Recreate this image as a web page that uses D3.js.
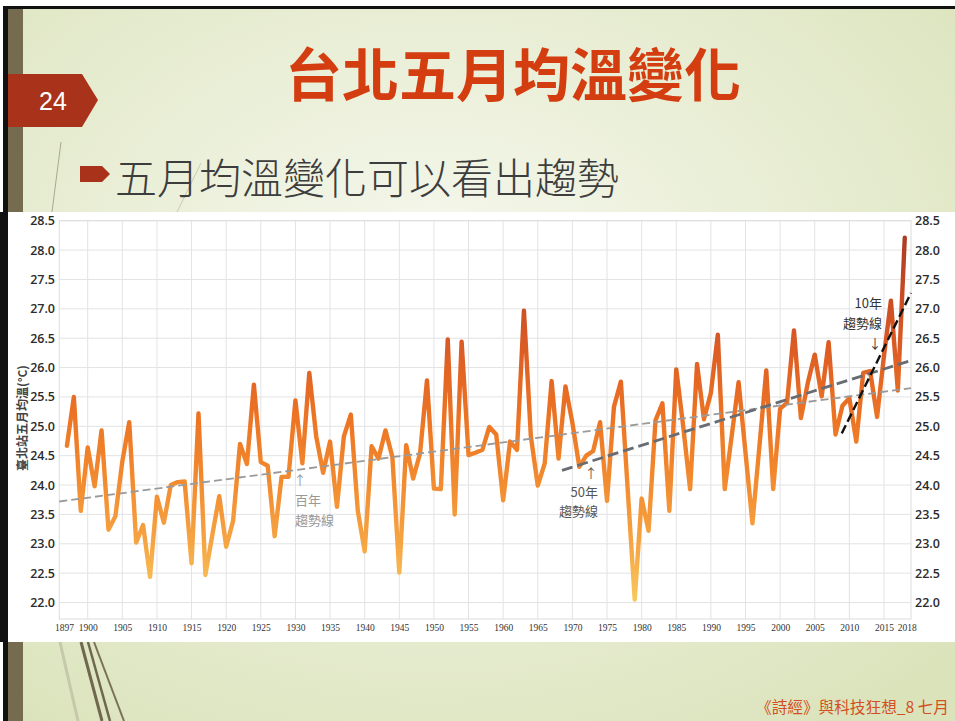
<!DOCTYPE html>
<html>
<head>
<meta charset="utf-8">
<script src="https://cdn.jsdelivr.net/npm/d3@7"></script>
<style>
  body { margin: 0; background: #fff; }
  svg { display: block; }
</style>
</head>
<body>
<div id="chart"></div>
<script>
// Taipei station, May mean temperature (°C), 1897 - 2018
var firstYear = 1897;
var mayTemps = [
  24.67, 25.50, 23.56, 24.64, 23.98, 24.93, 23.24, 23.47, 24.40, 25.07, // 1897-1906
  23.02, 23.32, 22.44, 23.80, 23.36, 24.00, 24.05, 24.06, 22.67, 25.22, // 1907-1916
  22.47, 23.15, 23.81, 22.95, 23.39, 24.70, 24.36, 25.71, 24.39, 24.33, // 1917-1926
  23.13, 24.14, 24.14, 25.44, 24.37, 25.91, 24.83, 24.21, 24.74, 23.63, // 1927-1936
  24.83, 25.20, 23.57, 22.87, 24.66, 24.45, 24.93, 24.48, 22.51, 24.68, // 1937-1946
  24.11, 24.54, 25.78, 23.94, 23.93, 26.48, 23.50, 26.44, 24.51, 24.55, // 1947-1956
  24.60, 24.99, 24.86, 23.74, 24.74, 24.60, 26.97, 24.83, 23.99, 24.37, // 1957-1966
  25.77, 24.45, 25.68, 25.06, 24.31, 24.50, 24.58, 25.07, 23.73, 25.33, // 1967-1976
  25.76, 23.90, 22.05, 23.77, 23.22, 25.10, 25.39, 23.56, 25.97, 25.00, // 1977-1986
  23.93, 26.06, 25.12, 25.57, 26.56, 23.93, 24.83, 25.75, 24.55, 23.35, // 1987-1996
  24.65, 25.95, 23.93, 25.30, 25.40, 26.63, 25.14, 25.74, 26.22, 25.51, // 1997-2006
  26.43, 24.86, 25.35, 25.48, 24.74, 25.91, 25.94, 25.16, 26.20, 27.14, // 2007-2016
  25.61, 28.21                                                          // 2017-2018
];

// trend lines, as [year, °C] end points
var trend100 = [[1895.9, 23.72], [2018.9, 25.65]];
var trend50 = [[1968.5, 24.25], [2018.9, 26.12]];
var trend10 = [[2008.9, 24.88], [2018.9, 27.27]];

var yTicks = [22.0, 22.5, 23.0, 23.5, 24.0, 24.5, 25.0, 25.5, 26.0, 26.5, 27.0, 27.5, 28.0, 28.5];
var xTicks = [1897, 1900, 1905, 1910, 1915, 1920, 1925, 1930, 1935, 1940, 1945, 1950, 1955,
              1960, 1965, 1970, 1975, 1980, 1985, 1990, 1995, 2000, 2005, 2010, 2015, 2018];
var xGrid = [1900, 1905, 1910, 1915, 1920, 1925, 1930, 1935, 1940, 1945, 1950, 1955,
             1960, 1965, 1970, 1975, 1980, 1985, 1990, 1995, 2000, 2005, 2010, 2015];

var data = mayTemps.map(function(v, i) { return { year: firstYear + i, temp: v }; });

var W = 955, H = 721;
var svg = d3.select("#chart").append("svg")
    .attr("width", W)
    .attr("height", H);
var defs = svg.append("defs");

// slide background
var bg = defs.append("radialGradient").attr("id", "slideBg")
    .attr("cx", "45%").attr("cy", "40%").attr("r", "75%");
bg.append("stop").attr("offset", "0%").attr("stop-color", "#f7f9f0");
bg.append("stop").attr("offset", "100%").attr("stop-color", "#dbe3bb");

svg.append("rect").attr("width", W).attr("height", H).attr("fill", "#fff");
svg.append("rect").attr("x", 8).attr("y", 9).attr("width", W - 8).attr("height", H - 9)
    .attr("fill", "url(#slideBg)");
svg.append("rect").attr("x", 3).attr("y", 6).attr("width", W - 3).attr("height", 3).attr("fill", "#111");
svg.append("rect").attr("x", 3).attr("y", 6).attr("width", 5).attr("height", H - 6).attr("fill", "#111");
svg.append("rect").attr("x", 8).attr("y", 9).attr("width", 15).attr("height", H - 9).attr("fill", "#756b4f");

// thin decorative strokes
var deco = svg.append("g").attr("fill", "none");
deco.append("line").attr("x1", 61).attr("y1", 142).attr("x2", 52).attr("y2", 212)
    .attr("stroke", "#a9a98c").attr("stroke-width", 1);
deco.append("line").attr("x1", 201).attr("y1", 163).attr("x2", 177).attr("y2", 212)
    .attr("stroke", "#c9cbb0").attr("stroke-width", 1);
deco.append("line").attr("x1", 60).attr("y1", 642).attr("x2", 78).attr("y2", 721)
    .attr("stroke", "#c6c8aa").attr("stroke-width", 3);
deco.append("line").attr("x1", 81).attr("y1", 642).attr("x2", 102).attr("y2", 721)
    .attr("stroke", "#6f6750").attr("stroke-width", 3);
deco.append("line").attr("x1", 88).attr("y1", 642).attr("x2", 110).attr("y2", 721)
    .attr("stroke", "#6f6750").attr("stroke-width", 2.5);
deco.append("line").attr("x1", 94).attr("y1", 642).attr("x2", 124).attr("y2", 721)
    .attr("stroke", "#7a7258").attr("stroke-width", 2);

// page number tag
svg.append("path").attr("d", "M8,74 L82,74 L98,100 L82,127 L8,127 Z").attr("fill", "#a9331a");
svg.append("text").attr("x", 53).attr("y", 101)
    .attr("text-anchor", "middle").attr("dominant-baseline", "central")
    .attr("font-family", "Liberation Sans, Arial, sans-serif").attr("font-size", 25)
    .attr("fill", "#fff").text("24");

// title and bullet
svg.append("text").attr("x", 513).attr("y", 71)
    .attr("text-anchor", "middle").attr("dominant-baseline", "central")
    .attr("font-family", "Noto Sans CJK TC, sans-serif").attr("font-size", 57).attr("font-weight", 700)
    .attr("fill", "#d33d0f").text("台北五月均溫變化");
svg.append("path").attr("d", "M80,166 L102,166 L110,174 L102,182 L80,182 Z").attr("fill", "#a9331a");
svg.append("text").attr("x", 115).attr("y", 175)
    .attr("dominant-baseline", "central")
    .attr("font-family", "Noto Sans CJK TC, sans-serif").attr("font-size", 42).attr("font-weight", 300)
    .attr("fill", "#3d3d3d").text("五月均溫變化可以看出趨勢");

// footer
svg.append("text").attr("x", 949).attr("y", 706)
    .attr("text-anchor", "end").attr("dominant-baseline", "central")
    .attr("font-family", "Noto Sans CJK TC, sans-serif").attr("font-size", 16)
    .attr("textLength", 193).attr("lengthAdjust", "spacingAndGlyphs")
    .attr("fill", "#d2501f").text("《詩經》與科技狂想_8 七月");

// chart panel
svg.append("rect").attr("x", 8).attr("y", 212).attr("width", W - 8).attr("height", 430).attr("fill", "#fff");
svg.append("rect").attr("x", 0).attr("y", 212).attr("width", 8).attr("height", 430).attr("fill", "#111");

var x = d3.scaleLinear().domain([1895.9, 2018.9]).range([59.3, 911]);
var y = d3.scaleLinear().domain([21.72, 28.5]).range([619, 220.7]);

var grid = svg.append("g").attr("stroke", "#e3e3e3").attr("stroke-width", 1);
grid.selectAll(".hg").data(yTicks).enter().append("line")
    .attr("x1", x.range()[0]).attr("x2", x.range()[1])
    .attr("y1", function(d) { return y(d); }).attr("y2", function(d) { return y(d); });
grid.selectAll(".vg").data(xGrid).enter().append("line")
    .attr("y1", y.range()[1]).attr("y2", y.range()[0])
    .attr("x1", function(d) { return x(d); }).attr("x2", function(d) { return x(d); });
grid.append("rect")
    .attr("x", x.range()[0]).attr("y", y.range()[1])
    .attr("width", x.range()[1] - x.range()[0]).attr("height", y.range()[0] - y.range()[1])
    .attr("fill", "none").attr("stroke", "#dcdcdc");

// axes (labels only)
var yFmt = d3.format(".1f");
var axisL = svg.append("g").attr("transform", "translate(55,0)")
    .call(d3.axisLeft(y).tickValues(yTicks).tickFormat(yFmt).tickSize(0).tickPadding(0));
var axisR = svg.append("g").attr("transform", "translate(915,0)")
    .call(d3.axisRight(y).tickValues(yTicks).tickFormat(yFmt).tickSize(0).tickPadding(0));
[axisL, axisR].forEach(function(a) {
    a.select(".domain").remove();
    a.selectAll("text")
        .attr("font-family", "Open Sans, DejaVu Sans, sans-serif")
        .attr("font-size", 12.5).attr("font-weight", 600).attr("fill", "#2b2b2b");
});

var axisB = svg.append("g").attr("transform", "translate(0,624)")
    .call(d3.axisBottom(x).tickValues(xTicks).tickFormat(d3.format("d")).tickSize(0).tickPadding(0));
axisB.select(".domain").remove();
axisB.selectAll("text")
    .attr("font-family", "Liberation Serif, Times New Roman, serif")
    .attr("font-size", 9.5).attr("fill", "#333")
    .attr("dx", function(d) { return d === 1897 ? -3 : (d === 2018 ? 2 : 0); });

svg.append("text")
    .attr("transform", "translate(21,418) rotate(-90)")
    .attr("text-anchor", "middle").attr("dominant-baseline", "central")
    .attr("font-family", "Noto Sans CJK TC, sans-serif").attr("font-size", 12).attr("font-weight", 700)
    .attr("fill", "#444").text("臺北站五月均溫(°C)");

// temperature line, coloured by value
var grad = defs.append("linearGradient").attr("id", "tempGrad")
    .attr("gradientUnits", "userSpaceOnUse")
    .attr("x1", 0).attr("x2", 0).attr("y1", y(22)).attr("y2", y(28.3));
[[0, "#f8c95c"], [0.16, "#f6a544"], [0.32, "#f28c30"], [0.5, "#ec7424"],
 [0.66, "#df6024"], [0.8, "#cd4e24"], [1, "#a83c24"]].forEach(function(s) {
    grad.append("stop").attr("offset", s[0]).attr("stop-color", s[1]);
});

var line = d3.line()
    .x(function(d) { return x(d.year); })
    .y(function(d) { return y(d.temp); });

svg.append("path").datum(data)
    .attr("d", line)
    .attr("fill", "none")
    .attr("stroke", "url(#tempGrad)")
    .attr("stroke-width", 4.4)
    .attr("stroke-linejoin", "round")
    .attr("stroke-linecap", "round");

// trend lines
var tline = d3.line()
    .x(function(d) { return x(d[0]); })
    .y(function(d) { return y(d[1]); });
svg.append("path").datum(trend100).attr("d", tline).attr("fill", "none")
    .attr("stroke", "#9a9a9a").attr("stroke-width", 1.8).attr("stroke-dasharray", "8,4");
svg.append("path").datum(trend50).attr("d", tline).attr("fill", "none")
    .attr("stroke", "#686d73").attr("stroke-width", 2.8).attr("stroke-dasharray", "11,5");
svg.append("path").datum(trend10).attr("d", tline).attr("fill", "none")
    .attr("stroke", "#111").attr("stroke-width", 2.4).attr("stroke-dasharray", "9,4");

// trend labels: arrow and two text lines in one text element
function note(rows, color) {
    var t = svg.append("text")
        .attr("font-family", "Noto Sans CJK TC, sans-serif").attr("font-size", 13)
        .attr("fill", color);
    rows.forEach(function(r) {
        t.append("tspan").attr("x", r[1]).attr("y", r[2])
            .attr("text-anchor", r[3]).text(r[0]);
    });
}
note([["↑", 300, 485, "middle"], ["百年", 295, 505, "start"], ["趨勢線", 295, 525, "start"]], "#999");
note([["↑", 591, 478, "middle"], ["50年", 598, 497, "end"], ["趨勢線", 598, 516, "end"]], "#555");
note([["10年", 882, 308, "end"], ["趨勢線", 882, 328, "end"], ["↓", 875, 348, "middle"]], "#333");
</script>
</body>
</html>
